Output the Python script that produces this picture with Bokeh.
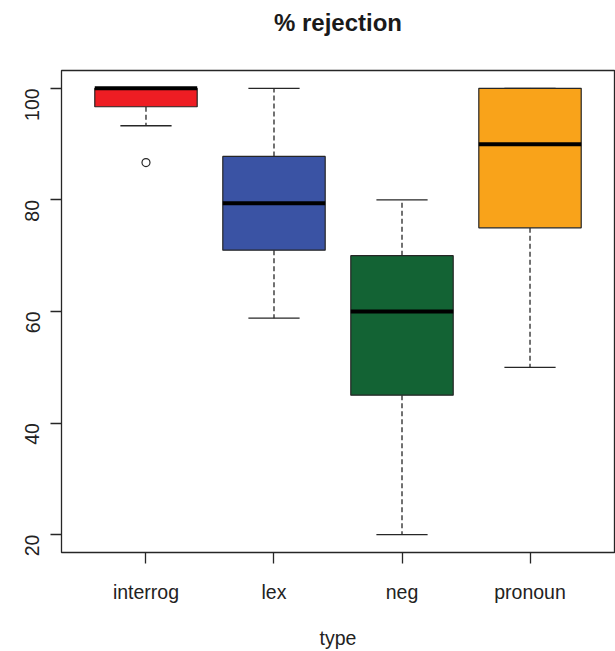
import math
from bokeh.plotting import figure
from bokeh.models import Range1d, FixedTicker, ColumnDataSource, LinearAxis
from bokeh.embed import file_html
from bokeh.resources import INLINE

title_text = "% rejection"
categories = ["interrog", "lex", "neg", "pronoun"]
q1 = [96.7, 71.0, 45.0, 75.0]
median = [100.0, 79.4, 60.0, 90.0]
q3 = [100.0, 87.8, 70.0, 100.0]
whisker_low = [93.3, 58.8, 20.0, 50.0]
whisker_high = [100.0, 100.0, 80.0, 100.0]
outlier_cat = ["interrog"]
outlier_val = [86.7]
colors = ["#EE1D23", "#3A53A4", "#136334", "#F9A31A"]
y_ticks = [20, 40, 60, 80, 100]

pos = [i + 1 for i in range(len(categories))]
bw = 0.8
cw = 0.4
src = ColumnDataSource(dict(
    x=pos, q1=q1, med=median, q3=q3, lo=whisker_low, hi=whisker_high, c=colors,
    xl=[x - bw / 2 for x in pos], xr=[x + bw / 2 for x in pos],
    cl=[x - cw / 2 for x in pos], cr=[x + cw / 2 for x in pos],
))

FONT = "Liberation Sans"
LC = "#262626"

p = figure(width=615, height=651, output_backend="svg", toolbar_location=None,
           x_range=Range1d(0.34, 4.66), y_range=Range1d(16.8, 103.2),
           min_border_left=61, min_border_right=1, min_border_top=70, min_border_bottom=99)
p.background_fill_color = "white"
p.border_fill_color = "white"
p.outline_line_color = LC
p.outline_line_width = 1.3
p.xgrid.visible = False
p.ygrid.visible = False

xa = p.below[0]
ya = p.left[0]

# title drawn as the label of a tickless top axis
top = LinearAxis(ticker=FixedTicker(ticks=[]), axis_line_color=None,
                 major_tick_line_color=None, minor_tick_line_color=None,
                 major_tick_in=0, major_tick_out=0,
                 major_label_text_alpha=0, axis_label=title_text,
                 axis_label_text_font=FONT, axis_label_text_font_size="24px",
                 axis_label_text_font_style="bold", axis_label_text_color="#1a1a1a",
                 axis_label_standoff=35)
p.add_layout(top, "above")

# whiskers
p.segment(x0="x", x1="x", y0="q3", y1="hi", source=src, line_color=LC, line_width=1.3, line_dash="5 3")
p.segment(x0="x", x1="x", y0="q1", y1="lo", source=src, line_color=LC, line_width=1.3, line_dash="5 3")
p.segment(x0="cl", x1="cr", y0="hi", y1="hi", source=src, line_color=LC, line_width=1.3)
p.segment(x0="cl", x1="cr", y0="lo", y1="lo", source=src, line_color=LC, line_width=1.3)
# boxes
p.quad(left="xl", right="xr", bottom="q1", top="q3", source=src, fill_color="c",
       line_color=LC, line_width=1.2)
# medians
p.segment(x0="xl", x1="xr", y0="med", y1="med", source=src, line_color="black", line_width=4)
# outliers
p.scatter(x=[pos[categories.index(c)] for c in outlier_cat], y=outlier_val,
          marker="circle", size=8, fill_color="white", line_color=LC, line_width=1.2)

# x axis
xa.ticker = FixedTicker(ticks=pos)
xa.major_label_overrides = {pos[i]: categories[i] for i in range(len(categories))}
xa.axis_line_color = None
xa.minor_tick_line_color = None
xa.major_tick_in = 0
xa.major_tick_out = 11
xa.major_tick_line_color = LC
xa.major_tick_line_width = 1.3
xa.major_label_standoff = 17
xa.major_label_text_font = FONT
xa.major_label_text_font_size = "19.5px"
xa.major_label_text_color = "#222222"
xa.axis_label = "type"
xa.axis_label_text_font = FONT
xa.axis_label_text_font_size = "19.5px"
xa.axis_label_text_font_style = "normal"
xa.axis_label_text_color = "#222222"
xa.axis_label_standoff = 21

ya.ticker = FixedTicker(ticks=y_ticks)
ya.axis_line_color = None
ya.minor_tick_line_color = None
ya.major_tick_in = 0
ya.major_tick_out = 11
ya.major_tick_line_color = LC
ya.major_tick_line_width = 1.3
ya.major_label_standoff = 18
ya.major_label_orientation = math.pi / 2
ya.major_label_text_font = FONT
ya.major_label_text_font_size = "19.5px"
ya.major_label_text_color = "#222222"

open("out.html", "w").write(file_html(p, INLINE))
